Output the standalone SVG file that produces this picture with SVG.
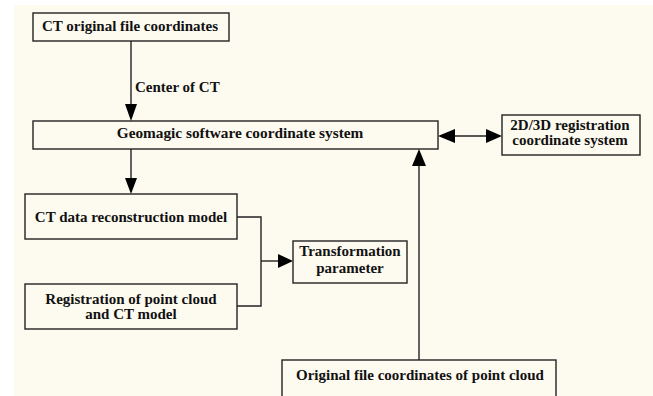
<svg xmlns="http://www.w3.org/2000/svg" width="653" height="396" viewBox="0 0 653 396">
<style>
.box{fill:#FDFAF0;stroke:#222;stroke-width:1.4}
.t{font-family:"Liberation Serif","Times New Roman",serif;font-weight:bold;font-size:15px;fill:#111;text-anchor:middle}
.ln{fill:none;stroke:#222;stroke-width:1.4}
.ah{fill:#000}
</style>
<rect x="14" y="5" width="639" height="391" fill="#FDFAF0"/>
<g id="connectors">
<line class="ln" x1="131" y1="41" x2="131" y2="106"/>
<polygon class="ah" points="125,104 137,104 131,121"/>
<text class="t" x="135" y="92" style="text-anchor:start">Center of CT</text>
<line class="ln" x1="131" y1="149" x2="131" y2="180"/>
<polygon class="ah" points="125,178 137,178 131,194"/>
<line class="ln" x1="452" y1="136" x2="488" y2="136"/>
<polygon class="ah" points="438,136 455,129 455,143"/>
<polygon class="ah" points="502,136 486,129 486,143"/>
<line class="ln" x1="419" y1="164" x2="419" y2="360"/>
<polygon class="ah" points="419,149 412,166 426,166"/>
<polyline class="ln" points="237,217 261,217 261,306 237,306"/>
<line class="ln" x1="261" y1="261" x2="280" y2="261"/>
<polygon class="ah" points="293,261 278,254 278,268"/>
</g>
<g id="ct-original">
<rect class="box" x="33" y="13" width="196" height="28"/>
<text class="t" x="130" y="31">CT original file coordinates</text>
</g>
<g id="geomagic">
<rect class="box" x="33" y="121" width="405" height="28"/>
<text class="t" x="240" y="138" style="font-size:15.3px">Geomagic software coordinate system</text>
</g>
<g id="registration-2d3d">
<rect class="box" x="502" y="115" width="138" height="40"/>
<text class="t" x="570" y="129.5">2D/3D registration</text>
<text class="t" x="570" y="145">coordinate system</text>
</g>
<g id="ct-recon">
<rect class="box" x="25" y="194" width="212" height="45"/>
<text class="t" x="131" y="221.5">CT data reconstruction model</text>
</g>
<g id="registration-pc">
<rect class="box" x="25" y="284" width="212" height="45"/>
<text class="t" x="131" y="304">Registration of point cloud</text>
<text class="t" x="131" y="319">and CT model</text>
</g>
<g id="transformation">
<rect class="box" x="293" y="241" width="114" height="42"/>
<text class="t" x="350" y="256">Transformation</text>
<text class="t" x="350" y="273">parameter</text>
</g>
<g id="pc-original">
<rect class="box" x="282" y="360" width="274" height="50"/>
<text class="t" x="420" y="380">Original file coordinates of point cloud</text>
</g>
</svg>
